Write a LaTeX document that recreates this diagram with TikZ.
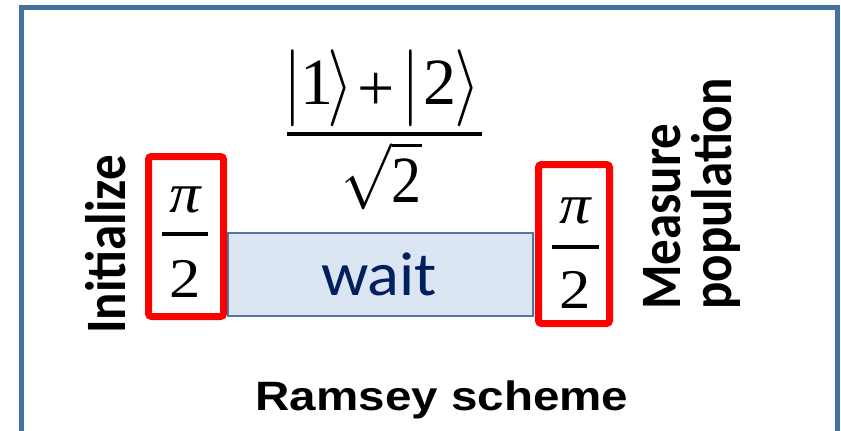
\documentclass[tikz,border=0pt]{standalone}
\usepackage{fontspec}
\setmainfont{Liberation Serif}
\newfontfamily\calibf{Carlito}
\newfontfamily\arialf{Liberation Sans}
\definecolor{framec}{RGB}{68,114,160}
\definecolor{waitfill}{RGB}{220,230,242}
\definecolor{waitline}{RGB}{79,120,170}
\definecolor{navy}{RGB}{0,32,96}
\newcommand{\myhs}[1]{\scalebox{1.12}[1]{#1}}
\newcommand{\myvs}[1]{\scalebox{1}[1.12]{#1}}
\newcommand{\mydelim}[1]{\scalebox{6.7}[7.7]{$#1$}}
\begin{document}
\begin{tikzpicture}[x=1pt,y=-1pt,
  redbox/.style={draw=red, line width=7pt, rounded corners=3pt, inner sep=0pt},
  waitbox/.style={draw=waitline, fill=waitfill, line width=2pt, inner sep=0pt},
  sidelbl/.style={inner sep=0pt, rotate=90, anchor=base west,
    font=\calibf\bfseries\fontsize{51}{51}\selectfont},
  mth/.style={inner sep=0pt, anchor=base, font=\fontsize{10}{12}\selectfont},
  numtxt/.style={inner sep=0pt, anchor=base, font=\fontsize{66}{70}\selectfont},
  frac/.style={inner sep=0pt, anchor=base, font=\fontsize{56}{60}\selectfont},
  barline/.style={line width=4pt}]
\useasboundingbox (0,0) rectangle (841,431);
% outer frame
\draw[framec, line width=5pt] (21,445) -- (21,7.5) -- (837.5,7.5) -- (837.5,445);
% wait box
\node[waitbox, minimum width=305pt, minimum height=82.5pt] (wbox) at (380.5,274.25) {};
\node[inner sep=0pt, anchor=base, text=navy, font=\calibf\fontsize{62}{62}\selectfont] (wait) at (379,295) {\scalebox{1.07}[1]{wait}};
% red boxes
\node[redbox, minimum width=75pt, minimum height=160pt] (lbox) at (186,236.5) {};
\node[redbox, minimum width=71pt, minimum height=159pt] (rbox) at (574,244) {};
% left pi/2
\node[frac] (lpi) at (185,212) {\myhs{\itshape π}};
\node[frac] (ltwo) at (185,297) {\myhs{2}};
\draw[barline] (162,234) -- (208,234);
% right pi/2
\node[frac] (rpi) at (575.5,223) {\myhs{\itshape π}};
\node[frac] (rtwo) at (575.5,308) {\myhs{2}};
\draw[barline] (552,246.7) -- (599,246.7);
% big fraction: numerator
\node[mth] (bar1) at (292.5,107) {\mydelim{\vert}};
\node[numtxt] (one) at (316.5,104.3) {1};
\node[mth] (ang1) at (340.5,107) {\mydelim{\rangle}};
\node[numtxt] (plus) at (376.5,110.5) {+};
\node[mth] (bar2) at (411,107) {\mydelim{\vert}};
\node[numtxt] (two) at (439.5,104.3) {2};
\node[mth] (ang2) at (467.5,107) {\mydelim{\rangle}};
\draw[barline] (287,134) -- (482,134);
% denominator
\node[mth] (den) at (381.5,202) {\scalebox{6}[6.6]{$\sqrt{\mbox{2}}$}};
% side labels
\node[sidelbl] (init) at (125.7,334) {\myvs{Initialize}};
\node[sidelbl] (meas) at (680,310) {\myvs{Measure}};
\node[sidelbl] (pop) at (731.7,310) {\myvs{population}};
% title
\node[inner sep=0pt, anchor=base, font=\arialf\bfseries\fontsize{41}{41}\selectfont] (title) at (442,410) {\scalebox{1.16}[1]{Ramsey scheme}};
\end{tikzpicture}
\end{document}
